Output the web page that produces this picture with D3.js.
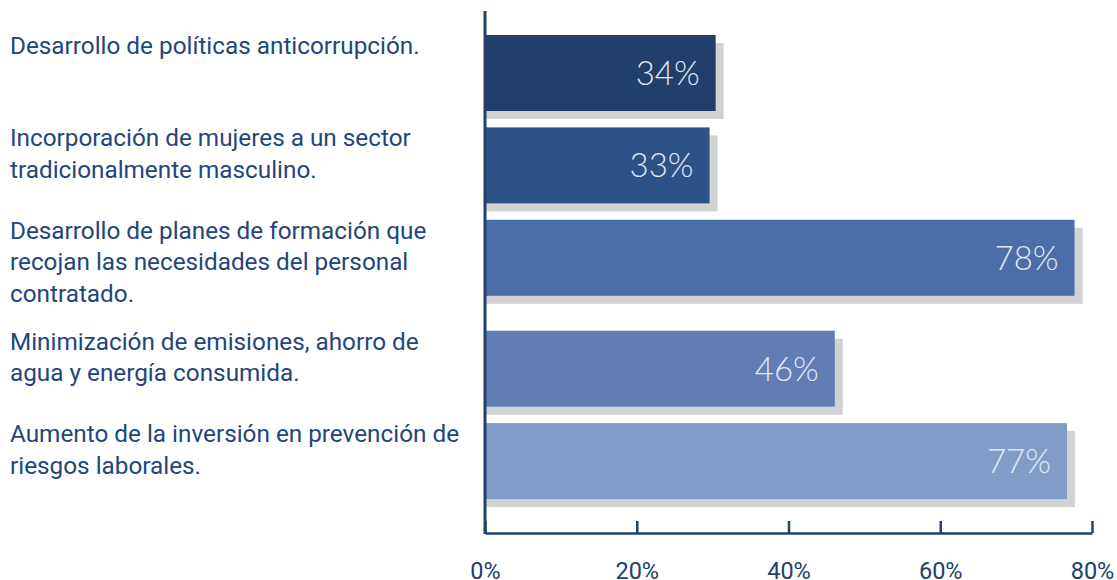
<!DOCTYPE html>
<html>
<head>
<meta charset="utf-8">
<script src="https://cdn.jsdelivr.net/npm/d3@7"></script>
<style>
  body { margin: 0; background: #fff; }
  text { font-family: Roboto, "Noto Sans", sans-serif; }
</style>
</head>
<body>
<div id="chart"></div>
<script>
// data
const categories = [
  ['Desarrollo de políticas anticorrupción.'],
  ['Incorporación de mujeres a un sector', 'tradicionalmente masculino.'],
  ['Desarrollo de planes de formación que', 'recojan las necesidades del personal', 'contratado.'],
  ['Minimización de emisiones, ahorro de', 'agua y energía consumida.'],
  ['Aumento de la inversión en prevención de', 'riesgos laborales.']
]
const values = [30.4, 29.6, 77.7, 46.1, 76.7]
const valueLabels = ['34%', '33%', '78%', '46%', '77%']
const colors = ['#203f6b', '#2d5286', '#4b6ea9', '#617eb4', '#7f9dc7']
const ticks = [0, 20, 40, 60, 80]

const width = 1117
const height = 580
const barH = 76
const lineH = 31.5
const gap = 16.4

const svg = d3
  .select('#chart')
  .append('svg')
  .attr('width', width)
  .attr('height', height)

const x = d3.scaleLinear().domain([0, 80]).range([485, 1092])

// each row is as tall as its bar or its label, whichever is bigger
const tops = []
categories.reduce((acc, lines) => {
  tops.push(acc)
  return acc + Math.max(barH, lines.length * lineH) + gap
}, 35)

const rows = categories.map((lines, i) => ({
  lines,
  value: values[i],
  label: valueLabels[i],
  color: colors[i],
  top: tops[i]
}))

const row = svg
  .selectAll('.row')
  .data(rows)
  .enter()
  .append('g')
  .attr('class', 'row')

// shadow first, then the bar on top
row
  .append('rect')
  .attr('x', x(0))
  .attr('y', d => d.top + 8)
  .attr('width', d => x(d.value) - x(0) + 8)
  .attr('height', barH)
  .attr('fill', '#d1d2d4')

row
  .append('rect')
  .attr('x', x(0))
  .attr('y', d => d.top)
  .attr('width', d => x(d.value) - x(0))
  .attr('height', barH)
  .attr('fill', d => d.color)

row
  .append('text')
  .attr('x', d => x(d.value) - 16)
  .attr('y', d => d.top + barH / 2 + 12)
  .attr('text-anchor', 'end')
  .attr('font-weight', 300)
  .style('font-family', 'Lato, Roboto, sans-serif')
  .style('font-size', '33px')
  .attr('fill', '#e2e8f1')
  .text(d => d.label)

row
  .append('text')
  .attr('x', 10)
  .attr('y', d => d.top + 19)
  .attr('fill', '#23467a')
  .style('font-size', '24.3px')
  .selectAll('tspan')
  .data(d => d.lines)
  .enter()
  .append('tspan')
  .attr('x', 10)
  .attr('dy', (d, i) => (i === 0 ? 0 : lineH))
  .text(d => d)

// axes
const axisY = 533
const xAxis = d3
  .axisBottom(x)
  .tickValues(ticks)
  .tickFormat(d => d + '%')
  .tickSizeInner(-12)
  .tickSizeOuter(0)
  .tickPadding(29)

const gx = svg
  .append('g')
  .attr('transform', `translate(0,${axisY})`)
  .call(xAxis)

gx.select('.domain').attr('stroke', '#23416d').attr('stroke-width', 2.5)
gx.selectAll('.tick line').attr('stroke', '#23416d').attr('stroke-width', 2.5)
gx.selectAll('.tick text')
  .attr('fill', '#203f6b')
  .style('font-size', '23.5px')
  .style('font-family', 'Roboto, sans-serif')

svg
  .append('line')
  .attr('x1', x(0))
  .attr('x2', x(0))
  .attr('y1', 11)
  .attr('y2', axisY + 1)
  .attr('stroke', '#23416d')
  .attr('stroke-width', 3)
</script>
</body>
</html>
